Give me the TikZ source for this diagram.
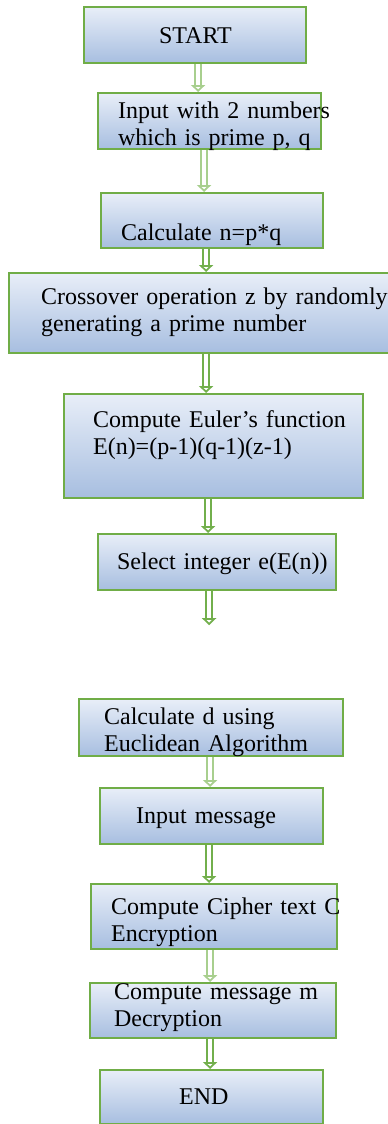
\documentclass[tikz,border=0pt]{standalone}
\usepackage{fontspec}
\setmainfont{Liberation Serif}
\usetikzlibrary{arrows.meta}

\definecolor{boxgreen}{HTML}{70AD47}
\definecolor{arrgreen}{HTML}{72AF4C}
\definecolor{palegreen}{HTML}{A8CF8E}
\definecolor{boxtop}{HTML}{E8EEF8}
\definecolor{boxbot}{HTML}{A7BEE0}

\begin{document}
\begin{tikzpicture}[
  x=1pt, y=-1pt,
  stage/.style={
    draw=boxgreen, line width=2.2pt,
    top color=boxtop, bottom color=boxbot,
    anchor=north west, inner ysep=0pt, align=left,
    font=\fontsize{24}{27}\selectfont
  },
  arr/.style={draw=arrgreen, line width=2pt, double=white, double distance=3.5pt,
    -{Triangle[open, width=14pt, length=7pt]}},
  palearr/.style={arr, draw=palegreen}
]
\useasboundingbox[fill=white] (0,0) rectangle (388,1124);

% 1. Start
\node[stage, text width=72pt, inner xsep=75pt, text height=36pt, text depth=20pt]
  (start) at (83,6) {\mbox{START}};

% 2. Input primes
\node[stage, text width=183pt, inner xsep=20pt, text height=25pt, text depth=31pt]
  (input) at (97,92) {\mbox{Input with 2 numbers}\\\mbox{which is prime p, q}};

% 3. Modulus
\node[stage, text width=182pt, inner xsep=20pt, text height=47pt, text depth=8pt]
  (modulus) at (100,192) {Calculate n=p*q};

% 4. Crossover
\node[stage, text width=316pt, inner xsep=32pt, text height=31pt, text depth=49pt]
  (cross) at (8,272) {\mbox{Crossover operation z by randomly}\\generating a prime number};

% 5. Euler
\node[stage, text width=241pt, inner xsep=29pt, text height=33pt, text depth=71pt]
  (euler) at (63,393) {\mbox{Compute Euler’s function}\\E(n)=(p-1)(q-1)(z-1)};

% 6. Select e
\node[stage, text width=200pt, inner xsep=19pt, text height=35pt, text depth=21pt]
  (select) at (97,533) {\mbox{Select integer e(E(n))}};

% 7. Private key
\node[stage, text width=214pt, inner xsep=25pt, text height=25pt, text depth=32pt]
  (privkey) at (78,698) {\mbox{Calculate d using}\\\mbox{Euclidean Algorithm}};

% 8. Message
\node[stage, text width=151pt, inner xsep=36pt, text height=35pt, text depth=21pt]
  (message) at (99,787) {Input message};

% 9. Encryption
\node[stage, text width=206pt, inner xsep=20pt, text height=30pt, text depth=35pt]
  (encrypt) at (90,883) {\mbox{Compute Cipher text C}\\Encryption};

% 10. Decryption
\node[stage, text width=198pt, inner xsep=24pt, text height=16pt, text depth=39pt]
  (decrypt) at (89,982) {\mbox{Compute message m}\\Decryption};

% 11. End
\node[stage, text width=65pt, inner xsep=79pt, text height=34pt, text depth=20pt]
  (finish) at (99,1069) {END};

\coordinate (gap) at ([xshift=-8pt, yshift=-34pt]select.south);

% Arrows
\draw[palearr] ([xshift=3pt]start.south) -- ([xshift=-11.5pt]input.north);
\draw[palearr] ([xshift=-5.5pt]input.south) -- ([xshift=-8pt]modulus.north);
\draw[arr] ([xshift=-6pt]modulus.south) -- ([xshift=7pt]cross.north);
\draw[arr] ([xshift=7pt]cross.south) -- ([xshift=-7.5pt]euler.north);
\draw[arr] ([xshift=-5.5pt]euler.south) -- ([xshift=-9pt]select.north);
\draw[arr] ([xshift=-8pt]select.south) -- (gap);
\draw[palearr] ([xshift=-1pt]privkey.south) -- ([xshift=-1.5pt]message.north);
\draw[arr] ([xshift=-2.5pt]message.south) -- ([xshift=-5pt]encrypt.north);
\draw[palearr] ([xshift=-4pt]encrypt.south) -- ([xshift=-3pt]decrypt.north);
\draw[arr] ([xshift=-3pt]decrypt.south) -- ([xshift=-1.5pt]finish.north);

\end{tikzpicture}
\end{document}
